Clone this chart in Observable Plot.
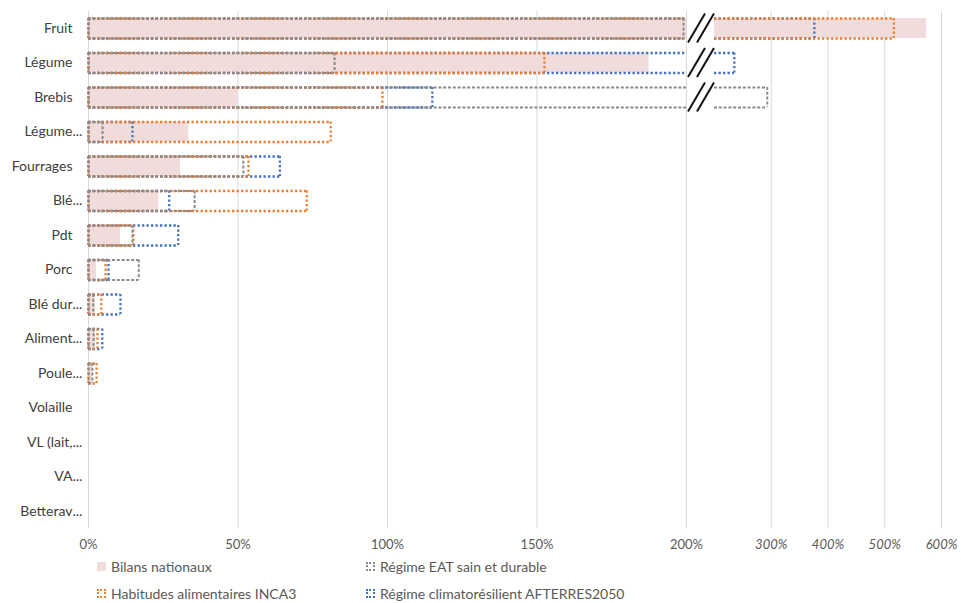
<!DOCTYPE html>
<html><head><meta charset="utf-8">
<script src="https://cdn.jsdelivr.net/npm/d3@7"></script>
<script src="https://cdn.jsdelivr.net/npm/@observablehq/plot@0.6"></script>
<style>
body{margin:0;background:#fff;font-family:Lato,"Liberation Sans",sans-serif;}
#wrap{position:relative;width:961px;height:603px;overflow:hidden;}
#wrap svg{position:absolute;left:0;top:0;}
.lg{position:absolute;font-size:14px;color:#595959;display:flex;align-items:center;white-space:nowrap;height:16px;}
.sw{width:9px;height:9px;margin-right:5px;box-sizing:border-box;}
</style></head><body><div id="wrap"></div>
<script>
// ---- data ----
const categories = ["Fruit","Légume","Brebis","Légume...","Fourrages","Blé...","Pdt","Porc","Blé dur...","Aliment...","Poule...","Volaille","VL (lait,...","VA...","Betterav..."];
const bilans   = [574, 187.5, 50, 33.5, 30.8, 23.5, 10.7, 2.7, 2.3, 2.3, 1.3, 0, 0, 0, 0];
const eat      = [199, 82.3, 293, 4.7, 51.8, 35.5, 14.7, 16.8, 1.6, 1.7, 1.3, 0, 0, 0, 0];
const inca3    = [516, 152.5, 98.3, 81, 53.5, 73, 15, 5.7, 4.3, 3, 2.7, 0, 0, 0, 0];
const afterres = [376, 235, 115, 14.7, 64, 27, 30, 6.7, 10.7, 4.6, 0, 0, 0, 0, 0];
const seriesNames = ["Bilans nationaux","Régime EAT sain et durable","Habitudes alimentaires INCA3","Régime climatorésilient AFTERRES2050"];
const ticksLeft = [0, 50, 100, 150, 200];
const ticksRight = [300, 400, 500, 600];
const breakValue = 200;

// ---- styles ----
const pink = "#efdcdb";
const gray = {name: seriesNames[1], values: eat,      stroke: "#8a8a8a", dash: "3,1.8", width: 2};
const orange = {name: seriesNames[2], values: inca3,  stroke: "#ed7d31", dash: "2.3,2.2", width: 2.3};
const blue = {name: seriesNames[3], values: afterres, stroke: "#4472c4", dash: "2.3,2.2", width: 2.3};
const drawOrder = [blue, orange, gray];
const after = breakValue + 0.001;

// split a value into segments around the axis break
function pieces(v) {
  if (v <= 0) return [];
  if (v <= breakValue) return [{x1: 0, x2: v, left: true, right: true}];
  return [{x1: 0, x2: breakValue, left: true, right: false},
          {x1: after, x2: v, left: false, right: true}];
}

const pinkSegs = [];
categories.forEach((c, i) => pieces(bilans[i]).forEach(p => pinkSegs.push({cat: c, ...p})));

const outlineMarks = [];
for (const s of drawOrder) {
  const segs = [], edges = [];
  categories.forEach((c, i) => {
    for (const p of pieces(s.values[i])) {
      segs.push({cat: c, ...p});
      if (p.left) edges.push({cat: c, x: p.x1});
      if (p.right) edges.push({cat: c, x: p.x2});
    }
  });
  const st = {stroke: s.stroke, strokeDasharray: s.dash, strokeWidth: s.width};
  outlineMarks.push(
    Plot.ruleY(segs, {y: "cat", x1: "x1", x2: "x2", dy: -10, ...st}),
    Plot.ruleY(segs, {y: "cat", x1: "x1", x2: "x2", dy: 10, ...st}),
    Plot.tickX(edges, {y: "cat", x: "x", insetTop: 7.25, insetBottom: 7.25, ...st})
  );
}

const H = 556;
const chart = Plot.plot({
  width: 961,
  height: H,
  marginLeft: 88,
  marginRight: 20,
  marginTop: 10.75,
  marginBottom: H - 528.25,
  style: {fontFamily: "Lato, 'Liberation Sans', sans-serif", background: "#fff"},
  x: {type: "linear", domain: [0, breakValue, after, 600], range: [88, 686, 714, 941], axis: null},
  y: {type: "band", domain: categories, range: [10.75, 528.25], padding: 0, round: false, axis: null},
  marks: [
    Plot.ruleX([...ticksLeft, ...ticksRight], {x: d => d, stroke: "#d9d9d9", strokeWidth: 1}),
    Plot.barX(pinkSegs, {y: "cat", x1: "x1", x2: "x2", fill: pink, insetTop: 7.25, insetBottom: 7.25}),
    ...outlineMarks,
    Plot.text(ticksLeft, {x: d => d, text: d => `${d}%`, frameAnchor: "bottom", dy: 20, fontSize: 13, fill: "#595959"}),
    Plot.text(ticksRight, {x: d => d, text: d => `${d}%`, frameAnchor: "bottom", dy: 20, fontSize: 13, fontStyle: "italic", fill: "#595959"}),
    Plot.text(categories, {y: d => d, text: d => d.replace(/\.\.\.$/, ""), frameAnchor: "left", dx: -16, textAnchor: "end", fontSize: 14, fill: "#404040"}),
    Plot.text(categories.filter(d => d.endsWith("...")), {y: d => d, text: () => "...", frameAnchor: "left", dx: -16, textAnchor: "start", fontSize: 14, fill: "#404040"})
  ]
});
document.getElementById("wrap").appendChild(chart);

// axis-break marks "//" on rows that cross the break, positioned from the Plot scales
const xs = chart.scale("x"), ys = chart.scale("y");
const xb = xs.apply(breakValue);
const svg = d3.select(chart);
const g = svg.append("g").attr("stroke", "#111").attr("stroke-width", 2);
categories.forEach((c, i) => {
  const crosses = [bilans, eat, inca3, afterres].some(a => a[i] > breakValue);
  if (!crosses) return;
  const yc = ys.apply(c) + ys.bandwidth / 2;
  for (const off of [0, 9]) {
    g.append("line")
      .attr("x1", xb + 2 + off).attr("y1", yc + 14.5)
      .attr("x2", xb + 19 + off).attr("y2", yc - 14.5);
  }
});

// legend
const wrap = document.getElementById("wrap");
const legendItems = [
  {name: seriesNames[0], left: 97, top: 558, css: `background:${pink}`},
  {name: seriesNames[1], left: 366, top: 558, css: `border:2px dotted ${gray.stroke}`},
  {name: seriesNames[2], left: 97, top: 585, css: `border:2px dotted ${orange.stroke}`},
  {name: seriesNames[3], left: 366, top: 585, css: `border:2px dotted ${blue.stroke}`}
];
for (const it of legendItems) {
  const d = document.createElement("div");
  d.className = "lg";
  d.style.left = it.left + "px";
  d.style.top = it.top + "px";
  d.innerHTML = `<span class="sw" style="${it.css}"></span><span></span>`;
  d.lastChild.textContent = it.name;
  wrap.appendChild(d);
}
</script></body></html>
